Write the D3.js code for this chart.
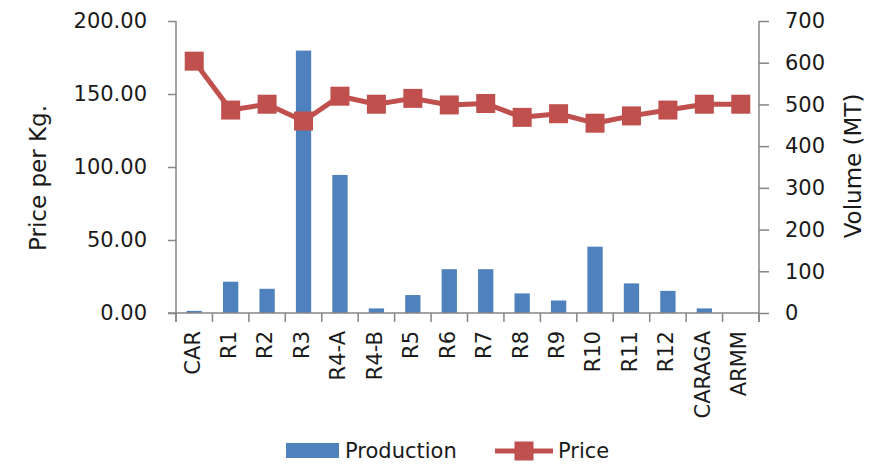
<!DOCTYPE html>
<html><head><meta charset="utf-8">
<script src="https://cdn.jsdelivr.net/npm/d3@7"></script>
<style>body{margin:0;background:#fff}text{font-family:"DejaVu Sans",sans-serif;fill:#1a1a1a}</style>
</head><body>
<svg id="c" width="887" height="464"></svg>
<script>
const categories = ["CAR","R1","R2","R3","R4-A","R4-B","R5","R6","R7","R8","R9","R10","R11","R12","CARAGA","ARMM"];
const production = [5,75,58,629,331,11,43,105,105,47,30,159,71,53,11,0];
const price = [172.5,139,143,131.5,148.5,143,147,142.5,143.5,134,136.5,130,135,139,143,143];
const leftTicks = [0,50,100,150,200];
const rightTicks = [0,100,200,300,400,500,600,700];

const svg = d3.select("#c");
const L = 176, R = 759, T = 21, B = 313;
const x = d3.scaleBand().domain(categories).range([L, R]).padding(0);
const yL = d3.scaleLinear().domain([0,200]).range([B, T]);
const yR = d3.scaleLinear().domain([0,700]).range([B, T]);
const axisColor = "#868686";
const barColor = "#4F81BD", lineColor = "#C0504D";

// bars
const bw = x.bandwidth()*0.42;
svg.append("g").selectAll("rect").data(production).join("rect")
  .attr("x",(d,i)=>x(categories[i])+x.bandwidth()/2-bw/2)
  .attr("y",d=>yR(d)).attr("width",bw).attr("height",d=>B-yR(d))
  .attr("fill",barColor);

// axes
const gl = svg.append("g").attr("transform",`translate(${L},0)`)
  .call(d3.axisLeft(yL).tickValues(leftTicks).tickFormat(d3.format(".2f")).tickSize(8).tickPadding(21));
const gr = svg.append("g").attr("transform",`translate(${R},0)`)
  .call(d3.axisRight(yR).tickValues(rightTicks).tickSize(10).tickPadding(16));
const gx = svg.append("g").attr("transform",`translate(0,${B})`)
  .call(d3.axisBottom(x).tickSize(0).tickFormat(""));
[gl,gr,gx].forEach(g=>{
  g.select(".domain").attr("stroke",axisColor).attr("stroke-width",1.5);
  g.selectAll(".tick line").attr("stroke",axisColor).attr("stroke-width",1.5);
  g.selectAll(".tick text").style("font-size","21px").attr("fill","#1a1a1a");
});
gl.select(".domain").attr("d",`M0,${T}V${B+9}`);
gr.select(".domain").attr("d",`M0,${T}V${B+9}`);
gx.select(".domain").attr("d",`M${L-8},0H${R}`);
// category boundary ticks
const bounds = categories.map(c=>x(c)).concat([R]);
svg.append("g").selectAll("line").data(bounds).join("line")
  .attr("x1",d=>d).attr("x2",d=>d).attr("y1",B).attr("y2",B+9)
  .attr("stroke",axisColor).attr("stroke-width",1.5);

// category labels
svg.append("g").selectAll("text").data(categories).join("text")
  .attr("transform",d=>`translate(${x(d)+x.bandwidth()/2-2},331) rotate(-90)`)
  .attr("text-anchor","end").attr("dy","0.35em").style("font-size","21px").text(d=>d);

// line
const line = d3.line().x((d,i)=>x(categories[i])+x.bandwidth()/2).y(d=>yL(d));
svg.append("path").datum(price).attr("d",line).attr("fill","none")
  .attr("stroke",lineColor).attr("stroke-width",5).attr("stroke-linejoin","round");
const ms = 19;
svg.append("g").selectAll("rect").data(price).join("rect")
  .attr("x",(d,i)=>x(categories[i])+x.bandwidth()/2-ms/2).attr("y",d=>yL(d)-ms/2)
  .attr("width",ms).attr("height",ms).attr("fill",lineColor);

// titles
svg.append("text").attr("transform","translate(38,178) rotate(-90)")
  .attr("text-anchor","middle").attr("dy","0.35em").style("font-size","23px").text("Price per Kg.");
svg.append("text").attr("transform","translate(853,166) rotate(-90)")
  .attr("text-anchor","middle").attr("dy","0.35em").style("font-size","23px").text("Volume (MT)");

// legend
const lg = svg.append("g");
lg.append("rect").attr("x",286).attr("y",443).attr("width",53).attr("height",15).attr("fill",barColor);
lg.append("text").attr("x",345).attr("y",458).style("font-size","21px").text("Production");
lg.append("line").attr("x1",495).attr("x2",553).attr("y1",451).attr("y2",451).attr("stroke",lineColor).attr("stroke-width",5);
lg.append("rect").attr("x",524-ms/2).attr("y",451-ms/2).attr("width",ms).attr("height",ms).attr("fill",lineColor);
lg.append("text").attr("x",558).attr("y",458).style("font-size","21px").text("Price");
</script>
</body></html>
